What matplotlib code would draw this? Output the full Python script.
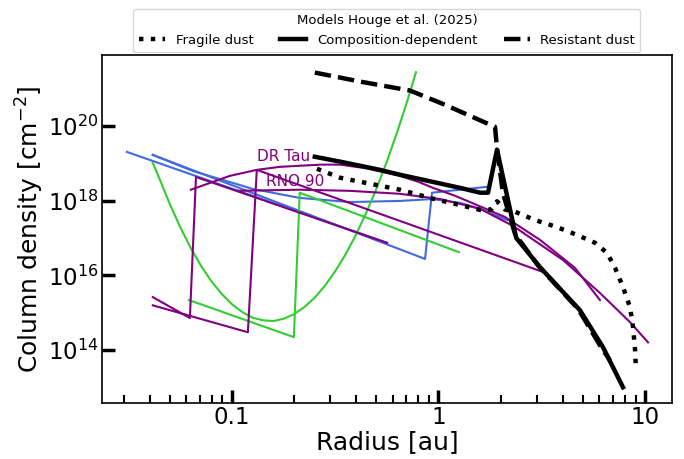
import numpy as np
import matplotlib
matplotlib.use("Agg")
import matplotlib.pyplot as plt
from matplotlib.ticker import FixedLocator, NullLocator, NullFormatter, LogLocator, LogFormatterSciNotation
from matplotlib.lines import Line2D

# ---------------- data (radius in au, log10 column density in cm^-2) ----------------
# Models Houge et al. (2025)
fragile_r = [0.258, 0.334, 0.651, 0.91, 1.27, 1.589, 1.80, 1.92, 2.10, 2.35, 2.93, 3.75, 4.69,
             5.73, 6.55, 7.16, 7.82, 8.46, 8.75, 8.95, 9.04]
fragile_logN = [18.85, 18.61, 18.29, 18.07, 17.88, 17.75, 17.76, 17.98, 17.76, 17.70, 17.48, 17.29, 17.08,
                16.87, 16.60, 16.20, 15.69, 15.15, 14.62, 14.00, 13.46]

comp_r = [0.252, 0.334, 0.521, 0.651, 1.27, 1.589, 1.737, 1.92, 2.38, 3.10, 4.84, 6.26, 7.82]
comp_logN = [19.17, 19.04, 18.82, 18.69, 18.34, 18.21, 18.21, 19.36, 17.0, 16.22, 15.07, 14.08, 13.01]

resist_r = [0.252, 0.417, 0.728, 1.075, 1.643, 1.878, 1.92, 2.05, 2.35, 3.05, 4.75, 6.1, 6.76]
resist_logN = [21.42, 21.18, 20.94, 20.56, 20.11, 19.97, 19.40, 18.20, 17.10, 16.25, 15.10, 14.10, 13.73]

# Observations (royalblue)
blue_a_r = [0.0310, 0.564]
blue_a_logN = [19.30, 16.87]
blue_b_r = [0.0414, 0.861, 0.930, 1.737]
blue_b_logN = [19.22, 16.44, 18.21, 18.37]
blue_c_r = [0.0414, 0.0647, 0.1264, 0.213, 0.372, 0.651, 0.930, 1.27, 1.589, 2.15]
blue_c_logN = [19.22, 18.79, 18.31, 18.07, 17.96, 17.99, 18.04, 17.94, 17.78, 17.48]

# Observations (limegreen)
green_a_r = [0.0414, 0.0447, 0.0501, 0.0562, 0.0631, 0.0708, 0.0794, 0.0891, 0.100, 0.1122,
             0.1259, 0.1413, 0.1585, 0.1778, 0.1995, 0.2239, 0.2512, 0.2818, 0.3162, 0.3548,
             0.3981, 0.4467, 0.5012, 0.5623, 0.631, 0.7079, 0.778]
green_a_logN = [19.01, 18.57, 17.90, 17.29, 16.74, 16.26, 15.85, 15.51, 15.23, 15.02,
                14.87, 14.80, 14.78, 14.84, 14.96, 15.15, 15.40, 15.72, 16.11, 16.56,
                17.08, 17.67, 18.32, 19.04, 19.83, 20.68, 21.43]
green_b_r = [0.0620, 0.1995, 0.213, 1.257]
green_b_logN = [15.34, 14.35, 18.21, 16.62]

# Observations (purple)
purple_a_r = [0.0414, 0.0626, 0.0670, 0.564]
purple_a_logN = [15.42, 14.86, 18.63, 16.87]
purple_b_r = [0.0414, 0.1195, 0.132, 3.10]
purple_b_logN = [15.20, 14.48, 18.82, 16.12]
drtau_r = [0.0633, 0.0978, 0.132, 0.17, 0.213, 0.27, 0.334, 0.45, 0.651, 0.80, 0.940, 1.2,
           1.42, 2.10, 3.10, 4.58, 6.05]
drtau_logN = [18.29, 18.66, 18.82, 18.90, 18.93, 18.96, 18.96, 18.86, 18.66, 18.50, 18.34, 18.13,
              17.96, 17.56, 16.95, 16.20, 15.34]
rno90_r = [0.1057, 0.213, 0.372, 0.651, 1.017, 1.589, 2.30, 4.01, 6.05, 8.46, 10.34]
rno90_logN = [18.26, 18.29, 18.26, 18.18, 18.04, 17.78, 17.32, 16.41, 15.53, 14.75, 14.21]

label_names = ["DR Tau", "RNO 90"]
label_r = [0.132, 0.146]
label_logN = [19.17, 18.51]

legend_labels = ["Fragile dust", "Composition-dependent", "Resistant dust"]
legend_title = "Models Houge et al. (2025)"
xtick_vals = [0.1, 1, 10]
xtick_labels = ["0.1", "1", "10"]
ytick_vals = [1e14, 1e16, 1e18, 1e20]

# ---------------- figure ----------------
fig = plt.figure(figsize=(6.84, 4.59), dpi=100)
ax = fig.add_axes([0.1491, 0.1220, 0.8333, 0.7582])


def p(r, logN):
    return np.asarray(r), 10.0 ** np.asarray(logN)


clw = 1.5
for r, n, c in [
    (blue_a_r, blue_a_logN, "royalblue"),
    (blue_b_r, blue_b_logN, "royalblue"),
    (blue_c_r, blue_c_logN, "royalblue"),
    (green_a_r, green_a_logN, "limegreen"),
    (green_b_r, green_b_logN, "limegreen"),
    (purple_a_r, purple_a_logN, "purple"),
    (purple_b_r, purple_b_logN, "purple"),
    (drtau_r, drtau_logN, "purple"),
    (rno90_r, rno90_logN, "purple"),
]:
    ax.plot(*p(r, n), color=c, lw=clw, zorder=2)

blw = 3.2
ax.plot(*p(fragile_r, fragile_logN), color="black", ls=":", lw=blw, zorder=3)
ax.plot(*p(comp_r, comp_logN), color="black", ls="-", lw=blw, zorder=3)
ax.plot(*p(resist_r, resist_logN), color="black", ls="--", lw=blw, zorder=3)

for name, r, n in zip(label_names, label_r, label_logN):
    ax.text(r, 10 ** n, name, color="purple", fontsize=11, ha="left", va="center")

ax.set_xscale("log")
ax.set_yscale("log")
ax.set_xlim(0.0235, 13.5)
ax.set_ylim(10 ** 12.59, 10 ** 21.89)

ax.xaxis.set_major_locator(FixedLocator(xtick_vals))
ax.set_xticklabels(xtick_labels)
ax.xaxis.set_minor_locator(LogLocator(base=10, subs=np.arange(2, 10)))
ax.xaxis.set_minor_formatter(NullFormatter())
ax.yaxis.set_major_locator(FixedLocator(ytick_vals))
ax.yaxis.set_major_formatter(LogFormatterSciNotation())
ax.yaxis.set_minor_locator(NullLocator())

ax.tick_params(which="major", direction="in", length=9.5, width=2.5, labelsize=16.5)
ax.tick_params(which="minor", direction="in", length=6, width=1.5)
ax.tick_params(axis="x", which="major", pad=2)
ax.tick_params(axis="y", which="major", pad=2.5)
for s in ax.spines.values():
    s.set_linewidth(1.2)

ax.set_xlabel("Radius [au]", fontsize=18, labelpad=1)
ax.set_ylabel("Column density [cm$^{-2}$]", fontsize=18, labelpad=1)

handles = [Line2D([], [], color="black", ls=":", lw=blw),
           Line2D([], [], color="black", ls="-", lw=blw),
           Line2D([], [], color="black", ls="--", lw=blw)]
ax.legend(handles, legend_labels, title=legend_title, ncol=3, loc="lower center",
          bbox_to_anchor=(0.5, 1.0), borderaxespad=0.2, fontsize=9.5, title_fontsize=9.5)

fig.savefig("out.png", dpi=100)
